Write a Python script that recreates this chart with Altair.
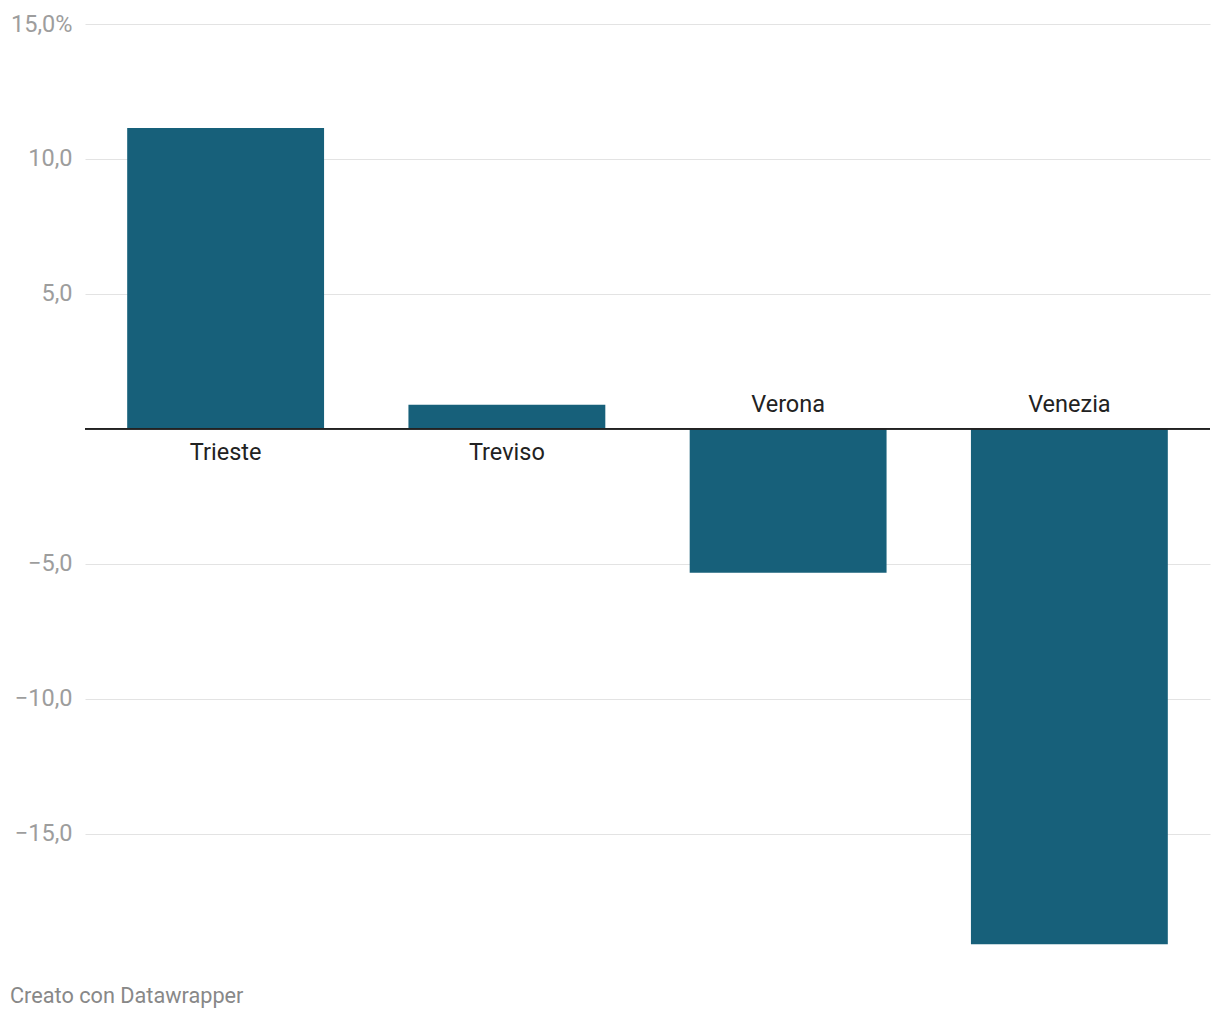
import altair as alt
import pandas as pd

cities = ["Trieste", "Treviso", "Verona", "Venezia"]
values = [11.15, 0.89, -5.33, -19.1]
tick_values = [15, 10, 5, -5, -10, -15]
tick_labels = ["15,0%", "10,0", "5,0", "\u22125,0", "\u221210,0", "\u221215,0"]
footer = "Creato con Datawrapper"

df = pd.DataFrame({"city": cities, "value": values})

label_expr = "''"
for v, l in zip(tick_values, tick_labels):
    label_expr = f"datum.value == {v} ? '{l}' : ({label_expr})"

W, H = 1125, 923
FONT = "Roboto"

x = alt.X("city:N", sort=cities, axis=None,
          scale=alt.Scale(paddingInner=0.3, paddingOuter=0.15))
y = alt.Y("value:Q", scale=alt.Scale(domain=[-19.2, 15], nice=False, zero=False),
          axis=alt.Axis(values=tick_values, labelExpr=label_expr, title=None,
                        domain=False, ticks=False, grid=True, gridColor="#e3e3e3",
                        gridWidth=1, labelColor="#9d9d9d", labelFontSize=23.5,
                        labelFont=FONT, labelPadding=13, labelBaseline="middle"))

base = alt.Chart(df)

bars = base.mark_bar(color="#17607a").encode(x=x, y=y, y2=alt.datum(0))

zero = alt.Chart(df).mark_rule(color="#222222", strokeWidth=1.6).encode(y=alt.datum(0))

lab_pos = base.transform_filter("datum.value >= 0").mark_text(
    baseline="middle", dy=24, fontSize=23.5, font=FONT, color="#222222"
).encode(x=x, y=alt.datum(0), text="city:N")

lab_neg = base.transform_filter("datum.value < 0").mark_text(
    baseline="middle", dy=-24, fontSize=23.5, font=FONT, color="#222222"
).encode(x=x, y=alt.datum(0), text="city:N")

foot = alt.Chart(pd.DataFrame({"t": [footer]})).mark_text(
    align="left", baseline="middle", fontSize=21.7, font=FONT, color="#888888"
).encode(x=alt.value(-75), y=alt.value(972), text="t:N")

chart = alt.layer(bars, zero, lab_pos, lab_neg, foot).properties(
    width=W, height=H,
    autosize=alt.AutoSizeParams(type="none"),
    padding={"left": 77, "top": 16, "right": 2, "bottom": 65},
).configure_view(stroke=None)

chart.save("out.html", embed_options={"renderer": "svg", "actions": False})
